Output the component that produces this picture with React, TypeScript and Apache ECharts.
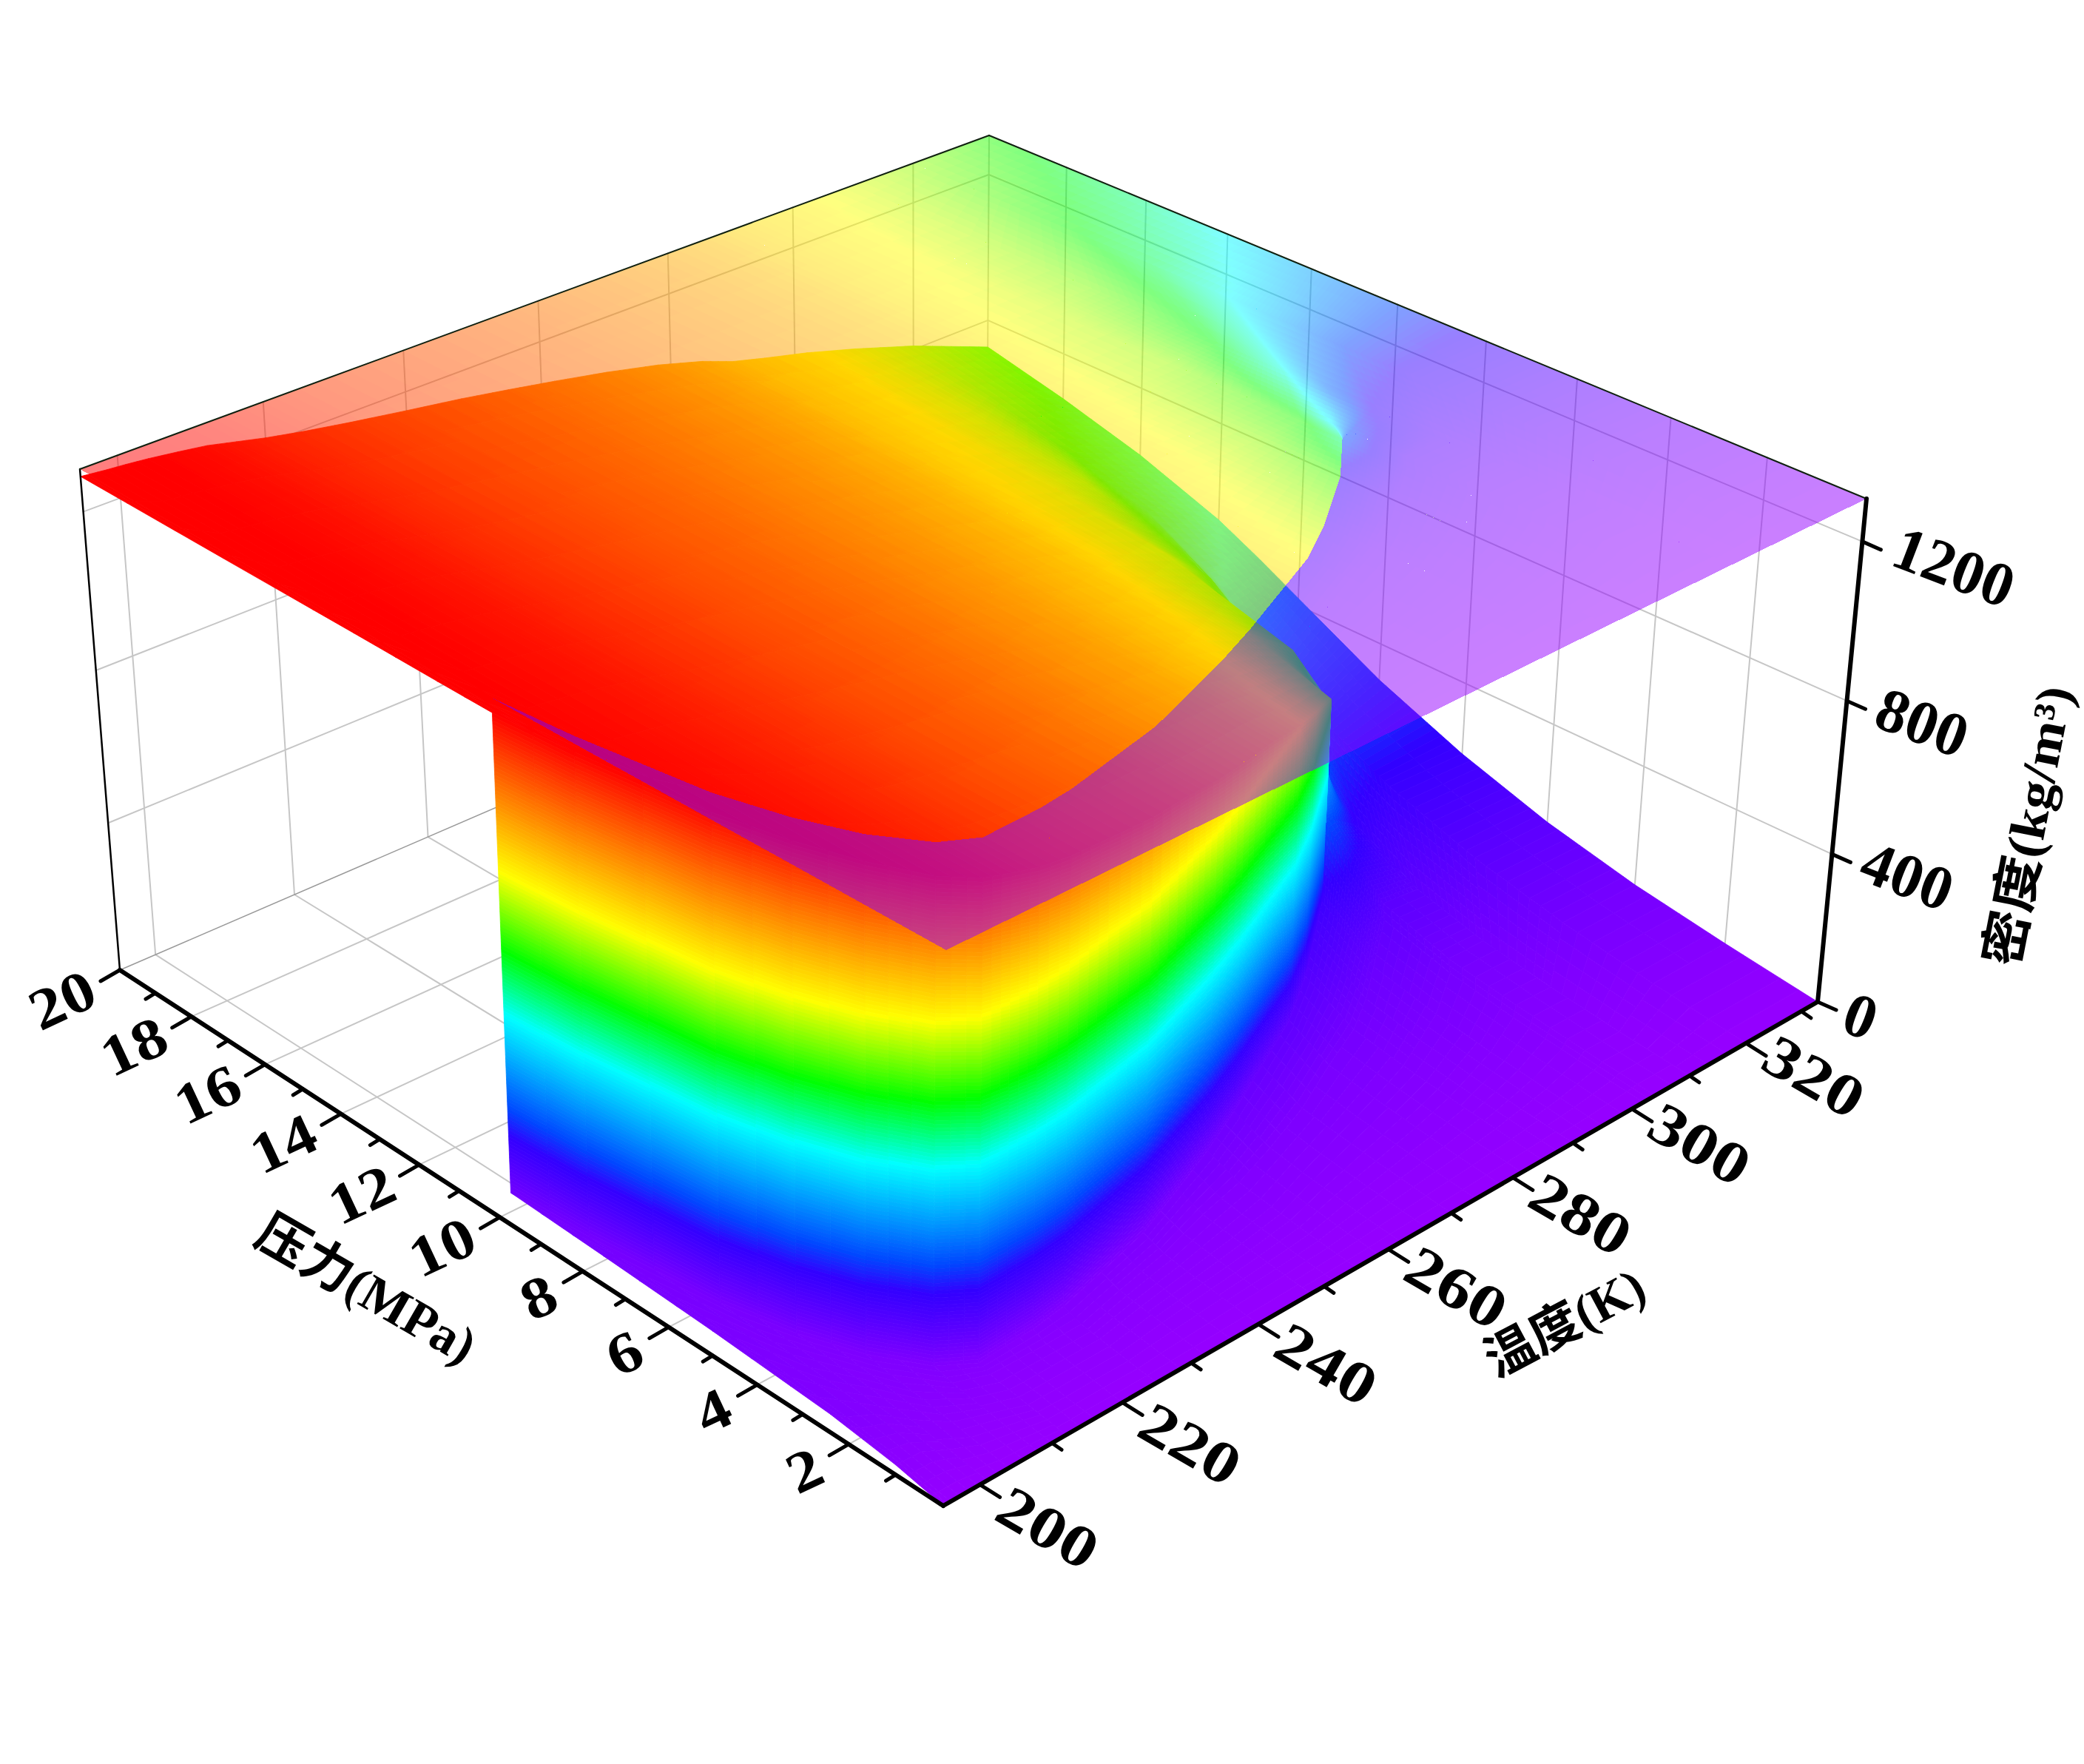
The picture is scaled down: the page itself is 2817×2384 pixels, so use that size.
import React, { useEffect, useRef } from "react";
import * as echarts from "echarts";

// ---------- data ----------
const temperatures = [195, 196, 198.5, 201, 204, 208, 212, 216, 220, 225, 232, 240, 248, 255, 262, 270, 278, 285, 290, 295, 302, 304, 310, 320, 333];

// pressure (MPa) of each mesh node, one row per temperature
const pressureNodes = [
  [0, 1, 2.4, 5, 7.5, 9.7, 9.7, 11, 13, 15, 17.5, 20],
  [0, 1, 2.2, 4, 6, 8, 8, 10, 12.5, 15, 17.5, 20],
  [0, 1, 2, 3, 4.2, 5.4, 5.4, 8, 11, 14, 17, 20],
  [0, 0.8, 1.6, 2.5, 3.4, 4.1, 4.1, 8, 11, 14, 17, 20],
  [0, 0.6, 1.2, 1.8, 2.5, 3.05, 3.05, 8, 11, 14, 17, 20],
  [0, 0.5, 1, 1.4, 1.8, 2.2, 2.2, 8, 11, 14, 17, 20],
  [0, 0.4, 0.8, 1.2, 1.6, 1.85, 1.85, 8, 11, 14, 17, 20],
  [0, 0.4, 0.8, 1.2, 1.6, 1.87, 1.87, 8, 11, 14, 17, 20],
  [0, 0.4, 0.8, 1.2, 1.6, 1.89, 1.89, 8, 11, 14, 17, 20],
  [0, 0.4, 0.8, 1.2, 1.6, 1.98, 1.98, 8, 11, 14, 17, 20],
  [0, 0.45, 0.9, 1.35, 1.8, 2.2, 2.2, 8, 11, 14, 17, 20],
  [0, 0.5, 1, 1.5, 2, 2.45, 2.45, 8, 11, 14, 17, 20],
  [0, 0.55, 1.1, 1.65, 2.3, 2.85, 2.85, 8, 11, 14, 17, 20],
  [0, 0.6, 1.2, 1.8, 2.5, 3.2, 3.2, 8, 11, 14, 17, 20],
  [0, 0.7, 1.4, 2.1, 2.8, 3.6, 3.6, 8, 11, 14, 17, 20],
  [0, 0.8, 1.6, 2.4, 3.2, 4.1, 4.1, 8, 11, 14, 17, 20],
  [0, 0.9, 1.8, 2.7, 3.7, 4.6, 4.6, 8, 11, 14, 17, 20],
  [0, 1, 2, 3, 4.1, 5.2, 5.2, 8, 11, 14, 17, 20],
  [0, 1.1, 2.2, 3.3, 4.5, 5.7, 5.7, 8, 11, 14, 17, 20],
  [0, 1.2, 2.4, 3.6, 5, 6.2, 6.2, 8, 11, 14, 17, 20],
  [0, 1.4, 2.8, 4.2, 5.7, 7.1, 7.1, 8, 11, 14, 17, 20],
  [0, 1.5, 3, 4.5, 6, 7.2, 7.6, 8.4, 11, 14, 17, 20],
  [0, 1.5, 3, 4.5, 6, 7.5, 8.5, 9.5, 11, 14, 17, 20],
  [0, 2, 4, 6, 8, 9.5, 11, 12.5, 14, 16, 18, 20],
  [0, 2, 4, 6, 8, 10, 12, 13, 14, 16, 18, 20],
];

// density (kg/m3) at those nodes
const densityNodes = [
  [0, 25, 46, 64, 76, 85, 1270, 1272, 1276, 1279, 1283, 1287],
  [0, 23, 44, 58, 68, 80, 1267, 1270, 1274, 1278, 1281, 1285],
  [0, 21, 40, 50, 60, 72, 1260, 1263, 1268, 1273, 1277, 1280],
  [0, 16, 31, 44, 54, 64, 1252, 1258, 1263, 1268, 1272, 1276],
  [0, 12, 24, 35, 46, 58, 1243, 1250, 1256, 1261, 1265, 1270],
  [0, 10, 20, 28, 37, 50, 1228, 1238, 1244, 1250, 1255, 1260],
  [0, 8, 16, 24, 33, 44, 1212, 1222, 1230, 1237, 1243, 1249],
  [0, 7, 15, 23, 32, 46, 1190, 1208, 1215, 1220, 1226, 1232],
  [0, 7, 15, 23, 31, 48, 1170, 1190, 1197, 1203, 1209, 1215],
  [0, 7, 15, 23, 32, 50, 1150, 1172, 1178, 1184, 1190, 1197],
  [0, 8, 17, 26, 36, 54, 1122, 1146, 1153, 1160, 1167, 1175],
  [0, 9, 18, 28, 40, 62, 1092, 1118, 1127, 1135, 1144, 1152],
  [0, 9, 19, 30, 44, 72, 1057, 1088, 1100, 1110, 1120, 1130],
  [0, 10, 21, 33, 48, 84, 1020, 1057, 1072, 1085, 1097, 1108],
  [0, 11, 24, 37, 54, 97, 985, 1022, 1040, 1056, 1071, 1085],
  [0, 13, 27, 42, 60, 114, 945, 985, 1005, 1025, 1042, 1057],
  [0, 14, 30, 47, 70, 132, 895, 935, 965, 990, 1010, 1025],
  [0, 16, 33, 52, 78, 152, 840, 895, 930, 955, 975, 990],
  [0, 17, 36, 58, 92, 180, 795, 855, 895, 920, 940, 958],
  [0, 19, 40, 65, 105, 207, 745, 810, 860, 890, 915, 935],
  [0, 22, 46, 78, 130, 310, 625, 720, 815, 855, 885, 905],
  [0, 23, 50, 82, 140, 300, 540, 680, 785, 840, 870, 895],
  [0, 22, 48, 80, 130, 225, 350, 560, 690, 790, 835, 865],
  [0, 35, 78, 135, 215, 300, 450, 570, 650, 710, 765, 810],
  [0, 35, 75, 130, 205, 300, 420, 480, 535, 615, 675, 725],
];

const temperatureTicks = [200, 220, 240, 260, 280, 300, 320];
const temperatureMinorTicks = [210, 230, 250, 270, 290, 310, 330];
const pressureTicks = [2, 4, 6, 8, 10, 12, 14, 16, 18, 20];
const pressureMinorTicks = [1, 3, 5, 7, 9, 11, 13, 15, 17, 19];
const densityTicks = [0, 400, 800, 1200];
const temperatureTitle = "温度(K)";
const pressureTitle = "压力(MPa)";
const densityTitle = "密度(kg/m³)";

const colorStops = [0, 230, 300, 540, 700, 890, 1270, 1305];
const stopColors = [
  [150, 0, 255],
  [50, 0, 255],
  [0, 70, 255],
  [0, 255, 255],
  [0, 255, 0],
  [255, 255, 0],
  [255, 0, 0],
  [255, 0, 0],
];

// ---------- the axis box of the picture ----------
const T_RANGE = [195, 333];
const P_RANGE = [0, 20];
const D_RANGE = [0, 1305];
const FLOOR = [[1275, 2035], [2457, 1354], [1333, 805], [162, 1311]];
const CEILING = [[1279, 1284], [2523, 674], [1337, 183], [108, 634]];
const PERSPECTIVE = -0.06;

function homography(q: number[][]) {
  const [[x0, y0], [x1, y1], [x2, y2], [x3, y3]] = q;
  const dx1 = x1 - x2, dx2 = x3 - x2, sx = x0 - x1 + x2 - x3;
  const dy1 = y1 - y2, dy2 = y3 - y2, sy = y0 - y1 + y2 - y3;
  const den = dx1 * dy2 - dx2 * dy1;
  const g = (sx * dy2 - dx2 * sy) / den;
  const h = (dx1 * sy - sx * dy1) / den;
  const a = x1 - x0 + g * x1, b = x3 - x0 + h * x3;
  const d = y1 - y0 + g * y1, e = y3 - y0 + h * y3;
  return (u: number, v: number) => {
    const w = g * u + h * v + 1;
    return [(a * u + b * v + x0) / w, (d * u + e * v + y0) / w];
  };
}
const floorMap = homography(FLOOR);
const ceilingMap = homography(CEILING);

function project(T: number, P: number, rho: number) {
  const u = echarts.number.linearMap(T, T_RANGE, [0, 1], false);
  const v = echarts.number.linearMap(P, P_RANGE, [0, 1], false);
  const s = echarts.number.linearMap(rho, D_RANGE, [0, 1], false);
  const f = ((1 + PERSPECTIVE) * s) / (1 + PERSPECTIVE * s);
  const a = floorMap(u, v), b = ceilingMap(u, v);
  return [a[0] + (b[0] - a[0]) * f, a[1] + (b[1] - a[1]) * f];
}

function rainbow(rho: number) {
  let k = 0;
  while (k < colorStops.length - 2 && rho > colorStops[k + 1]) k++;
  const w = Math.min(1, Math.max(0, (rho - colorStops[k]) / (colorStops[k + 1] - colorStops[k])));
  return stopColors[k].map((c, n) => Math.round(c + (stopColors[k + 1][n] - c) * w));
}

const cellList: number[][] = [];
for (let i = temperatures.length - 2; i >= 0; i--) {
  for (let j = pressureNodes[0].length - 2; j >= 0; j--) cellList.push([i, j]);
}

function cellPolygons(i: number, j: number, flat: boolean, alpha: number) {
  const T0 = temperatures[i], T1 = temperatures[i + 1];
  const P = [pressureNodes[i][j], pressureNodes[i + 1][j], pressureNodes[i + 1][j + 1], pressureNodes[i][j + 1]];
  const D = [densityNodes[i][j], densityNodes[i + 1][j], densityNodes[i + 1][j + 1], densityNodes[i][j + 1]];
  const n = Math.min(8, 1 + Math.ceil(Math.max(Math.abs(D[1] - D[0]), Math.abs(D[2] - D[3])) / 12));
  const m = Math.min(flat ? 40 : 130, 1 + Math.ceil(Math.max(Math.abs(D[3] - D[0]), Math.abs(D[2] - D[1])) / 9));
  const at = (a: number, b: number) => {
    const p0 = P[0] + (P[1] - P[0]) * a, p1 = P[3] + (P[2] - P[3]) * a;
    const d0 = D[0] + (D[1] - D[0]) * a, d1 = D[3] + (D[2] - D[3]) * a;
    return { T: T0 + (T1 - T0) * a, P: p0 + (p1 - p0) * b, D: d0 + (d1 - d0) * b };
  };
  const pt = (a: number, b: number) => {
    const q = at(a, b);
    return project(q.T, q.P, flat ? D_RANGE[1] : q.D);
  };
  const children: any[] = [];
  for (let x = n - 1; x >= 0; x--) {
    for (let y = m - 1; y >= 0; y--) {
      const a0 = x / n, a1 = (x + 1) / n, b0 = y / m, b1 = (y + 1) / m;
      const c = rainbow(at((a0 + a1) / 2, (b0 + b1) / 2).D);
      const col = alpha < 1 ? `rgba(${c[0]},${c[1]},${c[2]},${alpha})` : `rgb(${c[0]},${c[1]},${c[2]})`;
      children.push({
        type: "polygon",
        shape: { points: [pt(a0, b0), pt(a1, b0), pt(a1, b1), pt(a0, b1)] },
        style: alpha < 1 ? { fill: col } : { fill: col, stroke: col, lineWidth: 0.8 },
      });
    }
  }
  return { type: "group", children };
}

const GREY = "#c6c6c6";
const line = (a: number[], b: number[], stroke: string, lineWidth: number) => ({
  type: "line",
  shape: { x1: a[0], y1: a[1], x2: b[0], y2: b[1] },
  style: { stroke, lineWidth, lineCap: "round" },
});
const SERIF = '"Liberation Serif", "Noto Sans CJK SC", serif';
const label = (text: string, x: number, y: number, deg: number, size: number, scaleX = 1) => ({
  type: "text",
  x,
  y,
  scaleX,
  rotation: (deg * Math.PI) / 180,
  style: { text, fill: "#000", font: `bold ${size}px ${SERIF}`, align: "center", verticalAlign: "middle" },
});

const [Tmin, Tmax] = T_RANGE;
const [Pmin, Pmax] = P_RANGE;
const Dmax = D_RANGE[1];

function gridElements() {
  const out: any[] = [];
  for (const T of temperatureTicks) {
    out.push(line(project(T, Pmin, 0), project(T, Pmax, 0), GREY, 2));
    out.push(line(project(T, Pmax, 0), project(T, Pmax, Dmax), GREY, 2));
  }
  for (const P of pressureTicks) {
    if (P === Pmax) continue;
    out.push(line(project(Tmin, P, 0), project(Tmax, P, 0), GREY, 2));
    out.push(line(project(Tmax, P, 0), project(Tmax, P, Dmax), GREY, 2));
  }
  for (const D of densityTicks) {
    if (D === 0) continue;
    out.push(line(project(Tmin, Pmax, D), project(Tmax, Pmax, D), GREY, 2));
    out.push(line(project(Tmax, Pmax, D), project(Tmax, Pmin, D), GREY, 2));
  }
  out.push(line(project(Tmin, Pmax, 0), project(Tmax, Pmax, 0), "#999", 1.5));
  out.push(line(project(Tmax, Pmax, 0), project(Tmax, Pmin, 0), "#999", 1.5));
  out.push(line(project(Tmax, Pmax, 0), project(Tmax, Pmax, Dmax), GREY, 2));
  return out;
}

function axisElements() {
  const out: any[] = [];
  const BLACK = "#000";
  // thin box outline
  out.push(line(project(Tmin, Pmax, 0), project(Tmin, Pmax, Dmax), BLACK, 2.5));
  out.push(line(project(Tmin, Pmax, Dmax), project(Tmax, Pmax, Dmax), "#102010", 2));
  out.push(line(project(Tmax, Pmax, Dmax), project(Tmax, Pmin, Dmax), "#102010", 2));
  // thick axes
  out.push(line(project(Tmin, Pmin, 0), project(Tmin, Pmax, 0), BLACK, 6));
  out.push(line(project(Tmin, Pmin, 0), project(Tmax, Pmin, 0), BLACK, 6));
  out.push(line(project(Tmax, Pmin, 0), project(Tmax, Pmin, Dmax), BLACK, 6));

  temperatureTicks.forEach((T, k) => {
    const a = project(T, Pmin, 0);
    out.push(line(a, [a[0] + 27, a[1] + 17], BLACK, 5));
    const w = k / (temperatureTicks.length - 1);
    out.push(label(String(T), a[0] + 92, a[1] + 58 - 13 * w, -30, 80, 1.2));
  });
  temperatureMinorTicks.forEach((T) => {
    const a = project(T, Pmin, 0);
    out.push(line(a, [a[0] + 13, a[1] + 9], BLACK, 5));
  });
  pressureTicks.forEach((P) => {
    const a = project(Tmin, P, 0);
    out.push(line(a, [a[0] - 26, a[1] + 15], BLACK, 5));
    const two = P >= 10;
    out.push(label(String(P), a[0] + (two ? -78 : -60), a[1] + (two ? 40 : 35), 25, 78, 1.15));
  });
  pressureMinorTicks.forEach((P) => {
    const a = project(Tmin, P, 0);
    out.push(line(a, [a[0] - 13, a[1] + 8], BLACK, 5));
  });
  densityTicks.forEach((D) => {
    const a = project(Tmax, Pmin, D);
    out.push(line(a, [a[0] + 25, a[1] + 11], BLACK, 5));
    const s = String(D);
    out.push(label(s, a[0] + 36 + s.length * 22, a[1] + 14 + s.length * 5, -21, 84));
  });
  out.push(label(pressureTitle, 495, 1742, -30, 70));
  out.push(label(temperatureTitle, 2115, 1788, 28, 68));
  out.push(label(densityTitle, 2742, 1116, 79, 68, 1.1));
  return out;
}

function customSeries(data: any[], renderItem: any, z: number) {
  return {
    type: "custom",
    coordinateSystem: "none",
    silent: true,
    clip: false,
    progressive: 0,
    z,
    data,
    renderItem,
  };
}

export default function App() {
  const ref = useRef<HTMLDivElement>(null);
  useEffect(() => {
    const chart = echarts.init(ref.current as HTMLDivElement, undefined, { renderer: "svg" });
    chart.setOption({
      animation: false,
      backgroundColor: "#fff",
      series: [
        customSeries([[0]], () => ({ type: "group", children: gridElements() }), 1),
        customSeries(cellList, (_: any, api: any) => cellPolygons(api.value(0), api.value(1), false, 1), 2),
        customSeries(cellList, (_: any, api: any) => cellPolygons(api.value(0), api.value(1), true, 0.5), 3),
        customSeries([[0]], () => ({ type: "group", children: axisElements() }), 4),
      ],
    });
    return () => chart.dispose();
  }, []);
  return (
    <>
      <style>{`html,body{margin:0;padding:0;background:#fff} path[fill-opacity]{shape-rendering:crispEdges}`}</style>
      <div ref={ref} style={{ width: 2817, height: 2384 }} />
    </>
  );
}
